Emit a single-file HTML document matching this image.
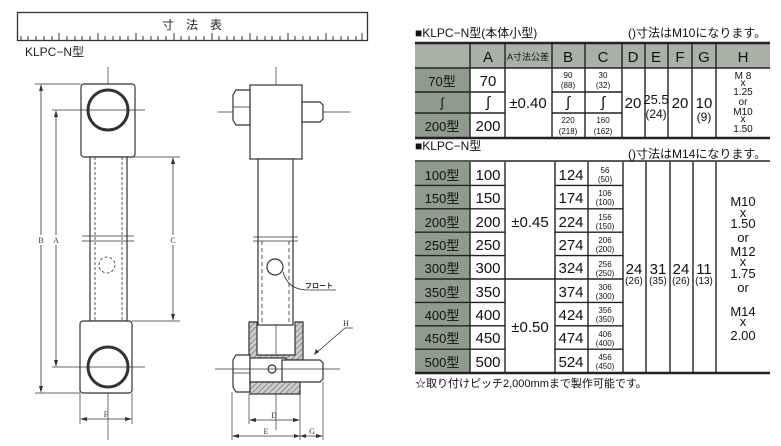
<!DOCTYPE html>
<html><head><meta charset="utf-8"><style>
html,body{margin:0;padding:0;background:#fff;}
svg{display:block;font-family:"Liberation Sans","Noto Sans CJK JP",sans-serif;}
</style></head><body>
<svg width="781" height="446" viewBox="0 0 781 446" xmlns="http://www.w3.org/2000/svg">
<defs>
<pattern id="h" width="4" height="4" patternUnits="userSpaceOnUse" patternTransform="rotate(45)"><rect width="4" height="4" fill="#ccc"/><line x1="0" y1="0" x2="0" y2="4" stroke="#555" stroke-width="1"/></pattern>
</defs>
<!-- ruler -->
<rect x="17.5" y="12.5" width="350" height="28" fill="#fff" stroke="#333" stroke-width="1.3"/>
<text x="192" y="29" font-size="12" text-anchor="middle" fill="#222">寸　法　表</text>
<g stroke="#333" stroke-width="1">
<path d="M21 40v-4M28 40v-4M36 40v-4M44 40v-4M52 40v-4M59 40v-7M67 40v-4M75 40v-4M82 40v-4M90 40v-4M98 40v-7M105 40v-4M113 40v-4M120 40v-4M128 40v-4M136 40v-7M143 40v-4M151 40v-4M158 40v-4M166 40v-4M174 40v-7M181 40v-4M189 40v-4M196 40v-4M204 40v-4M212 40v-7M219 40v-4M227 40v-4M234 40v-4M242 40v-4M250 40v-7M257 40v-4M265 40v-4M272 40v-4M280 40v-4M288 40v-7M295 40v-4M303 40v-4M310 40v-4M318 40v-4M326 40v-7M333 40v-4M341 40v-4M348 40v-4M356 40v-4M362 40v-7"/>
</g>
<text x="25" y="56" font-size="12" fill="#222">KLPC−N型</text>

<!-- front view -->
<g stroke="#333" fill="none" stroke-width="1.2">
<line x1="108" y1="67" x2="108" y2="440" stroke-width="0.7"/>
<rect x="81" y="84" width="54" height="73" rx="3" fill="#fff"/>
<circle cx="108" cy="110" r="20" stroke-width="3"/>
<line x1="52" y1="110" x2="145" y2="110" stroke-width="0.7"/>
<rect x="90" y="157" width="37" height="164" fill="#fff"/>
<line x1="95" y1="157" x2="95" y2="321" stroke-dasharray="3,2" stroke-width="0.8"/>
<line x1="122" y1="157" x2="122" y2="321" stroke-dasharray="3,2" stroke-width="0.8"/>
<line x1="82" y1="236" x2="134" y2="236" stroke-width="0.8"/><line x1="82" y1="241" x2="134" y2="241" stroke-width="0.8"/>
<circle cx="107" cy="265" r="8" stroke-dasharray="3,2" stroke-width="0.8"/>
<rect x="80" y="321" width="52" height="72" rx="3" fill="#fff"/>
<circle cx="108" cy="367" r="20" stroke-width="3"/>
<line x1="52" y1="367" x2="145" y2="367" stroke-width="0.7"/>
<line x1="35" y1="84" x2="81" y2="84" stroke-width="0.7"/><line x1="35" y1="393" x2="80" y2="393" stroke-width="0.7"/>
<line x1="127" y1="157" x2="180" y2="157" stroke-width="0.7"/><line x1="132" y1="321" x2="180" y2="321" stroke-width="0.7"/>
<line x1="41" y1="86" x2="41" y2="391" stroke-width="0.8"/>
<line x1="56" y1="112" x2="56" y2="365" stroke-width="0.8"/>
<line x1="173" y1="159" x2="173" y2="319" stroke-width="0.8"/>
<line x1="80" y1="393" x2="80" y2="424" stroke-width="0.7"/><line x1="132" y1="393" x2="132" y2="424" stroke-width="0.7"/>
<line x1="82" y1="419" x2="130" y2="419" stroke-width="0.8"/>
</g>
<g fill="#333">
<path d="M41 84l-2 7h4zM41 393l-2-7h4zM56 110l-2 7h4zM56 367l-2-7h4zM173 157l-2 7h4zM173 321l-2-7h4zM80 419l7-2v4zM132 419l-7-2v4z"/>
</g>
<g font-size="8" fill="#333" font-family="Liberation Serif,serif" text-anchor="middle">
<rect x="37" y="235" width="8" height="10" fill="#fff"/><text x="41" y="243">B</text>
<rect x="52" y="235" width="8" height="10" fill="#fff"/><text x="56" y="243">A</text>
<rect x="169" y="235" width="8" height="10" fill="#fff"/><text x="173" y="243">C</text>
<text x="106" y="417">F</text>
</g>

<!-- side view -->
<g stroke="#333" fill="none" stroke-width="1.2">
<line x1="276" y1="67" x2="276" y2="430" stroke-width="0.7"/>
<line x1="218" y1="112" x2="350" y2="112" stroke-width="0.7"/>
<rect x="250" y="85" width="52" height="74" fill="#fff"/>
<path d="M250 90h-14l-3 5v25l3 5h14z" fill="#fff"/><line x1="233" y1="107" x2="250" y2="107" stroke-width="0.7"/>
<path d="M302 102h18l3 3v14l-3 3h-18z" fill="#fff"/>
<rect x="258" y="159" width="35" height="166" fill="#fff"/>
<line x1="253" y1="237" x2="298" y2="237" stroke-width="0.8"/><line x1="253" y1="241" x2="298" y2="241" stroke-width="0.8"/>
<line x1="262" y1="241" x2="262" y2="325" stroke-dasharray="4,3" stroke-width="0.8"/>
<line x1="289" y1="241" x2="289" y2="325" stroke-dasharray="4,3" stroke-width="0.8"/>
<circle cx="275" cy="267" r="8"/>
<path d="M283 272q5 18 25 18h28" stroke-width="0.8"/>
<path d="M249 322h8v33h38v-33h8v38h-54z" fill="url(#h)"/>
<path d="M250 355h-14l-3 5v27l3 5h14z" fill="#fff"/><line x1="233" y1="373" x2="250" y2="373" stroke-width="0.7"/>
<rect x="250" y="358" width="36" height="24" fill="#fff"/>
<path d="M282 360h38l3 3v16l-3 3h-38z" fill="#fff"/>
<circle cx="272" cy="369" r="4"/>
<rect x="250" y="382" width="50" height="12" fill="url(#h)"/>
<line x1="215" y1="369" x2="340" y2="369" stroke-width="0.7"/>
<path d="M353 328h-8l-30 26" stroke-width="0.8"/>
<line x1="249" y1="394" x2="249" y2="424" stroke-width="0.7"/><line x1="300" y1="394" x2="300" y2="440" stroke-width="0.7"/>
<line x1="232" y1="392" x2="232" y2="440" stroke-width="0.7"/><line x1="323" y1="382" x2="323" y2="440" stroke-width="0.7"/>
<line x1="251" y1="420" x2="298" y2="420" stroke-width="0.8"/>
<line x1="234" y1="436" x2="321" y2="436" stroke-width="0.8"/>
</g>
<g fill="#333"><path d="M249 420l7-2v4zM300 420l-7-2v4zM232 436l7-2v4zM300 436l-6-2v4zM300 436l6-2v4zM323 436l-7-2v4zM314 355l2-6 3 3z"/></g>
<g font-size="8" fill="#333" font-family="Liberation Serif,serif" text-anchor="middle">
<text x="274" y="418">D</text><text x="266" y="434">E</text><text x="312" y="434">G</text><text x="346" y="326">H</text>
</g>
<text x="305" y="288" font-size="7" fill="#333" font-weight="bold">フロート</text>

<!-- upper table -->
<text x="415" y="37" font-size="12" fill="#111">■KLPC−N型(本体小型)</text>
<text x="628" y="37" font-size="12" fill="#111">()寸法はM10になります。</text>
<rect x="415" y="43" width="355" height="25" fill="#a9b1a6"/>
<rect x="415" y="68" width="55" height="70" fill="#8f9b8c"/>
<g stroke="#222" stroke-width="1.4" fill="none">
<line x1="415" y1="43" x2="770" y2="43" stroke-width="2.5"/>
<line x1="415" y1="138" x2="770" y2="138" stroke-width="2.5"/>
<line x1="415" y1="68" x2="770" y2="68"/>
<path d="M415 92H505M415 113H505M552 92H622M552 113H622"/>
<path d="M470 43V138M505 43V138M552 43V138M585 43V138M622 43V138M645 43V138M668 43V138M692 43V138M716 43V138"/>
</g>
<g fill="#111" text-anchor="middle" font-size="15">
<text x="488" y="62">A</text><text x="568" y="62">B</text><text x="603" y="62">C</text><text x="633" y="62">D</text><text x="656" y="62">E</text><text x="680" y="62">F</text><text x="704" y="62">G</text><text x="743" y="62">H</text>
<text x="528" y="60" font-size="9">A寸法公差</text>
<text x="442" y="86" font-size="13">70型</text><text x="442" y="107" font-size="13">∫</text><text x="442" y="131" font-size="13">200型</text>
<text x="488" y="86">70</text><text x="488" y="107">∫</text><text x="488" y="131">200</text>
<text x="528" y="108">±0.40</text>
<text x="568" y="107">∫</text><text x="603" y="107">∫</text>
<g font-size="8"><text x="568" y="78">90</text><text x="568" y="88">(88)</text><text x="603" y="78">30</text><text x="603" y="88">(32)</text>
<text x="568" y="123">220</text><text x="568" y="134">(218)</text><text x="603" y="123">160</text><text x="603" y="134">(162)</text></g>
<text x="633" y="108">20</text><text x="680" y="108">20</text>
<text x="656" y="104" font-size="13">25.5</text><text x="656" y="118" font-size="12">(24)</text>
<text x="704" y="108">10</text><text x="704" y="121" font-size="12">(9)</text>
<g font-size="10"><text x="743" y="79">M 8</text><text x="743" y="86">x</text><text x="743" y="95">1.25</text><text x="743" y="105">or</text><text x="743" y="115">M10</text><text x="743" y="122">x</text><text x="743" y="132">1.50</text></g>
</g>

<!-- lower table -->
<text x="415" y="150" font-size="12" fill="#111">■KLPC−N型</text>
<text x="628" y="158" font-size="12" fill="#111">()寸法はM14になります。</text>
<rect x="415" y="162" width="55" height="211" fill="#8f9b8c"/>
<g stroke="#222" stroke-width="1.4" fill="none">
<line x1="415" y1="161" x2="770" y2="161" stroke-width="1.5"/>
<line x1="415" y1="373" x2="770" y2="373" stroke-width="2.5"/>
<path d="M415 185.4H505M415 208.8H505M415 232.2H505M415 255.6H505M415 279H505M415 302.4H505M415 325.8H505M415 349.2H505"/>
<path d="M555 185.4H623M555 208.8H623M555 232.2H623M555 255.6H623M555 279H623M555 302.4H623M555 325.8H623M555 349.2H623"/>
<path d="M505 279H555"/>
<path d="M470 162V373M505 162V373M555 162V373M588 162V373M623 162V373M646 162V373M670 162V373M693 162V373M716 162V373"/>
</g>
<g fill="#111" text-anchor="middle" font-size="15">
<g font-size="13">
<text x="442" y="180">100型</text><text x="442" y="203">150型</text><text x="442" y="227">200型</text><text x="442" y="250">250型</text><text x="442" y="273">300型</text><text x="442" y="297">350型</text><text x="442" y="320">400型</text><text x="442" y="343">450型</text><text x="442" y="367">500型</text>
</g>
<text x="488" y="180">100</text><text x="488" y="203">150</text><text x="488" y="227">200</text><text x="488" y="250">250</text><text x="488" y="273">300</text><text x="488" y="297">350</text><text x="488" y="320">400</text><text x="488" y="343">450</text><text x="488" y="367">500</text>
<text x="530" y="227">±0.45</text><text x="530" y="332">±0.50</text>
<text x="571" y="180">124</text><text x="571" y="203">174</text><text x="571" y="227">224</text><text x="571" y="250">274</text><text x="571" y="273">324</text><text x="571" y="297">374</text><text x="571" y="320">424</text><text x="571" y="343">474</text><text x="571" y="367">524</text>
<g font-size="8">
<text x="605" y="173">56</text><text x="605" y="182">(50)</text>
<text x="605" y="196">106</text><text x="605" y="205">(100)</text>
<text x="605" y="220">156</text><text x="605" y="229">(150)</text>
<text x="605" y="243">206</text><text x="605" y="252">(200)</text>
<text x="605" y="267">256</text><text x="605" y="276">(250)</text>
<text x="605" y="290">306</text><text x="605" y="299">(300)</text>
<text x="605" y="313">356</text><text x="605" y="322">(350)</text>
<text x="605" y="337">406</text><text x="605" y="346">(400)</text>
<text x="605" y="360">456</text><text x="605" y="369">(450)</text>
</g>
<text x="634" y="274">24</text><text x="658" y="274">31</text><text x="681" y="274">24</text><text x="704" y="274">11</text>
<g font-size="10"><text x="634" y="284">(26)</text><text x="658" y="284">(35)</text><text x="681" y="284">(26)</text><text x="704" y="284">(13)</text></g>
<g font-size="13"><text x="743" y="206">M10</text><text x="743" y="217">x</text><text x="743" y="228">1.50</text><text x="743" y="242">or</text><text x="743" y="256">M12</text><text x="743" y="266">x</text><text x="743" y="278">1.75</text><text x="743" y="292">or</text><text x="743" y="316">M14</text><text x="743" y="326">x</text><text x="743" y="340">2.00</text></g>
</g>
<text x="415" y="387" font-size="11" fill="#111">☆取り付けピッチ2,000mmまで製作可能です。</text>
</svg>
</body></html>
